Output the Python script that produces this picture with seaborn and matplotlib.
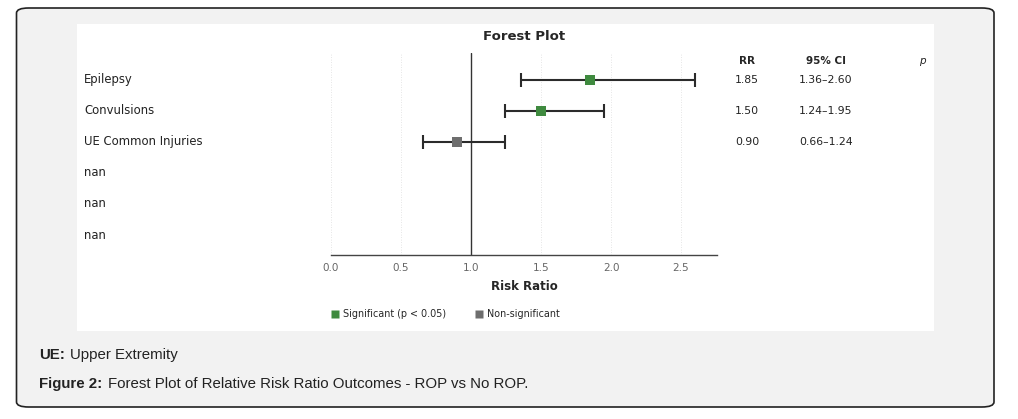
import numpy as np
import pandas as pd
import matplotlib
matplotlib.use("Agg")
import matplotlib.pyplot as plt
from matplotlib.patches import FancyBboxPatch, Rectangle
from matplotlib.transforms import blended_transform_factory
import seaborn as sns

# Data
outcomes = ["Epilepsy", "Convulsions", "UE Common Injuries", "nan", "nan", "nan"]
rr = [1.85, 1.50, 0.90]
ci_low = [1.36, 1.24, 0.66]
ci_high = [2.60, 1.95, 1.24]
significant = [True, True, False]
x_ticks = [0.0, 0.5, 1.0, 1.5, 2.0, 2.5]

GREEN = "#3f8a3f"
GREY = "#6e6e6e"

df = pd.DataFrame({
    "row": np.arange(len(rr)),
    "rr": rr,
    "lo": ci_low,
    "hi": ci_high,
    "group": ["Significant" if s else "Non-significant" for s in significant],
})

sns.set_style("white")
plt.rcParams["font.family"] = ["DejaVu Sans"]

W, H = 1018, 419
fig = plt.figure(figsize=(W / 100, H / 100), dpi=100)
fig.patch.set_facecolor("white")

# outer rounded frame + white chart panel
frame = FancyBboxPatch((16.5 / W, 12 / H), (994 - 16.5) / W, (411 - 12) / H,
                       boxstyle="round,pad=0,rounding_size=0.012",
                       transform=fig.transFigure, facecolor="#f2f2f2",
                       edgecolor="#222222", linewidth=1.2, zorder=-2)
fig.patches.append(frame)
panel = Rectangle((77 / W, (H - 331) / H), (934 - 77) / W, (331 - 24) / H,
                  transform=fig.transFigure, facecolor="white",
                  edgecolor="none", zorder=-1)
fig.patches.append(panel)

ax_l, ax_r, ax_t, ax_b = 331, 717, 53, 255
ax = fig.add_axes([ax_l / W, (H - ax_b) / H, (ax_r - ax_l) / W, (ax_b - ax_t) / H])
ax.set_facecolor("none")

for t in x_ticks:
    ax.axvline(t, color="#dddddd", linestyle=(0, (1, 2)), linewidth=0.6, zorder=0)
ax.axvline(1.0, color="#333333", linewidth=1.0, zorder=1)

for _, r in df.iterrows():
    ax.errorbar(r["rr"], r["row"], xerr=[[r["rr"] - r["lo"]], [r["hi"] - r["rr"]]],
                fmt="none", ecolor="#2b2b2b", elinewidth=1.5, capsize=5,
                capthick=1.5, zorder=2)

sns.scatterplot(data=df, x="rr", y="row", hue="group", marker="s", s=55,
                palette={"Significant": GREEN, "Non-significant": GREY},
                edgecolor="none", legend=False, ax=ax, zorder=3)

ax.set_xlim(0, 2.757)
ax.set_ylim(5.645, -0.87)
ax.set_xticks(x_ticks)
ax.set_xticklabels([f"{t:.1f}" for t in x_ticks], fontsize=7.5, color="#666666")
ax.tick_params(axis="x", length=3, width=0.8, color="#555555", pad=3)
ax.set_yticks([])
for s in ["top", "right", "left"]:
    ax.spines[s].set_visible(False)
ax.spines["bottom"].set_color("#444444")
ax.spines["bottom"].set_linewidth(1.0)

ax.set_xlabel("Risk Ratio", fontsize=8.5, fontweight="bold", labelpad=5)
ax.set_ylabel("")
ax.set_title("Forest Plot", fontsize=9.5, fontweight="bold", pad=9)

# row labels and statistics columns
tr = blended_transform_factory(fig.transFigure, ax.transData)
for i, name in enumerate(outcomes):
    ax.text(84 / W, i, name, transform=tr, ha="left", va="center",
            fontsize=8.4, color="#222222")
head_y = -0.6
ax.text(747 / W, head_y, "RR", transform=tr, ha="center", va="center",
        fontsize=7.5, fontweight="bold")
ax.text(826 / W, head_y, "95% CI", transform=tr, ha="center", va="center",
        fontsize=7.5, fontweight="bold")
ax.text(922 / W, head_y, "p", transform=tr, ha="center", va="center",
        fontsize=7.5, style="italic")
for i in range(len(rr)):
    ax.text(747 / W, i, f"{rr[i]:.2f}", transform=tr, ha="center", va="center",
            fontsize=7.8, color="#222222")
    ax.text(826 / W, i, f"{ci_low[i]:.2f}\u2013{ci_high[i]:.2f}", transform=tr,
            ha="center", va="center", fontsize=7.8, color="#222222")

# legend
handles = [plt.Line2D([], [], marker="s", linestyle="none", markersize=6,
                      markerfacecolor=GREEN, markeredgecolor="none"),
           plt.Line2D([], [], marker="s", linestyle="none", markersize=6,
                      markerfacecolor=GREY, markeredgecolor="none")]
fig.legend(handles, ["Significant (p < 0.05)", "Non-significant"],
           loc="center", bbox_to_anchor=(445 / W, (H - 314) / H), ncol=2,
           frameon=False, fontsize=6.9, handlelength=1.0, handletextpad=0.4,
           columnspacing=2.9)

# caption
cap = ["Liberation Sans", "DejaVu Sans"]
fig.text(39 / W, (H - 355) / H, "UE:", fontsize=10.8, fontweight="bold",
         family=cap, va="center", color="#222222")
fig.text(70 / W, (H - 355) / H, "Upper Extremity", fontsize=10.8, family=cap,
         va="center", color="#222222")
fig.text(39 / W, (H - 384) / H, "Figure 2:", fontsize=10.8, fontweight="bold",
         family=cap, va="center", color="#222222")
fig.text(108 / W, (H - 384) / H,
         "Forest Plot of Relative Risk Ratio Outcomes - ROP vs No ROP.",
         fontsize=10.8, family=cap, va="center", color="#222222")

fig.savefig("out.png", dpi=100)
